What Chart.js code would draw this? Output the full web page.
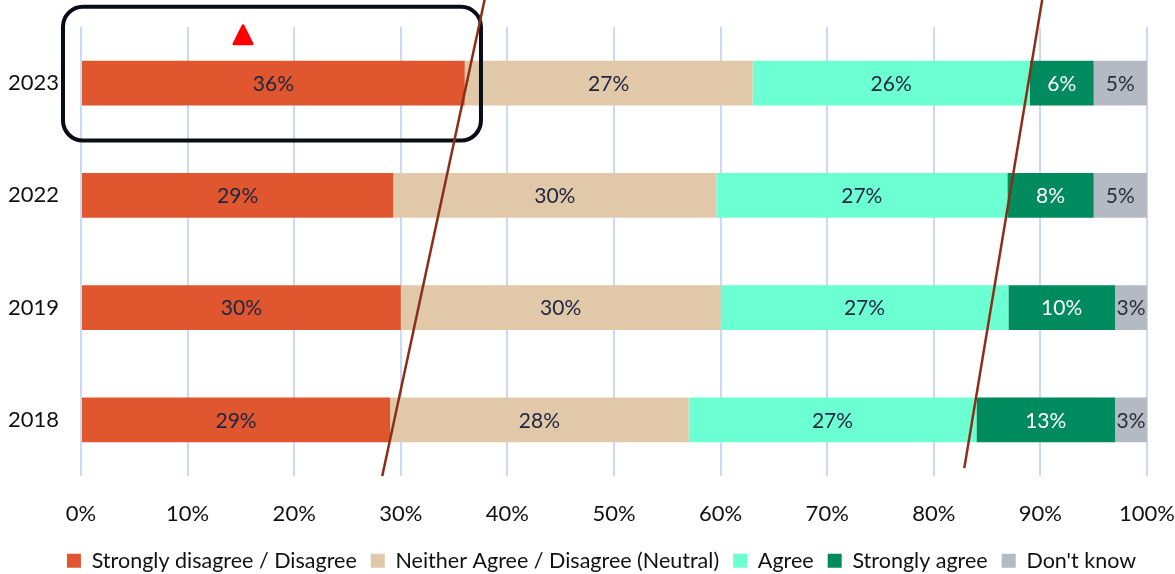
<!DOCTYPE html>
<html>
<head>
<meta charset="utf-8">
<script src="https://cdn.jsdelivr.net/npm/chart.js@4.4.1/dist/chart.umd.min.js"></script>
<style>
  html, body { margin: 0; padding: 0; background: #ffffff; }
  #wrap { width: 1175px; height: 574px; position: relative; }
</style>
</head>
<body>
<div id="wrap"><canvas id="c" width="1175" height="574"></canvas></div>
<script>
// ---- data ----
const categories = ['2023', '2022', '2019', '2018'];
const seriesNames = ['Strongly disagree / Disagree', 'Neither Agree / Disagree (Neutral)', 'Agree', 'Strongly agree', "Don't know"];
const disagree = [36.0, 29.3, 30.0, 29.0];
const neutral  = [27.0, 30.3, 30.0, 28.0];
const agree    = [26.0, 27.3, 27.0, 27.0];
const strongly = [6.0, 8.1, 10.0, 13.0];
const dontKnow = [5.0, 5.0, 3.0, 3.0];
const xTicks = [0, 10, 20, 30, 40, 50, 60, 70, 80, 90, 100];

// annotations in data units: [x percent, y category index]
const slashLine1 = [[28.26, 3.50], [37.9, -0.76]];
const slashLine2 = [[82.86, 3.43], [90.2, -0.76]];
const highlightBox = [[-1.69, -0.681], [37.52, 0.512]];
const markerTriangle = [15.2, -0.43];

const colors = ['#E0562F', '#E0C8A8', '#6CFFD2', '#008B5E', '#B4BAC4'];
const labelColors = ['#1C2640', '#1C2640', '#1C2640', '#FFFFFF', '#2A2F3A'];
const FONT = 'Lato, "Liberation Sans", sans-serif';

const seriesValues = [disagree, neutral, agree, strongly, dontKnow];

const labelPlugin = {
  id: 'segLabels',
  afterDatasetsDraw(chart) {
    const ctx = chart.ctx;
    ctx.save();
    ctx.font = '21px ' + FONT;
    ctx.textAlign = 'center';
    ctx.textBaseline = 'middle';
    chart.data.datasets.forEach((ds, di) => {
      const meta = chart.getDatasetMeta(di);
      meta.data.forEach((el, i) => {
        const p = el.getProps(['x', 'y', 'base'], true);
        ctx.fillStyle = labelColors[di];
        ctx.fillText(Math.round(ds.data[i]) + '%', (p.x + p.base) / 2, p.y + 1);
      });
    });
    ctx.restore();
  }
};

// nudge the legend row so it sits where the reference's does
const legendShift = {
  id: 'legendShift',
  afterLayout(chart) {
    if (chart.legend) {
      chart.legend.left += 28;
      chart.legend.right += 28;
    }
  }
};

const annotationPlugin = {
  id: 'annots',
  afterDraw(chart) {
    const ctx = chart.ctx;
    const xs = chart.scales.x, ys = chart.scales.y;
    const P = (pt) => [xs.getPixelForValue(pt[0]), ys.getPixelForValue(pt[1])];
    ctx.save();
    // highlight rounded box
    const a = P(highlightBox[0]), b = P(highlightBox[1]);
    ctx.strokeStyle = '#080C16';
    ctx.lineWidth = 4;
    ctx.beginPath();
    ctx.roundRect(a[0], a[1], b[0] - a[0], b[1] - a[1], 20);
    ctx.stroke();
    // triangle marker
    const t = P(markerTriangle);
    ctx.fillStyle = '#FF0000';
    ctx.strokeStyle = '#FF0000';
    ctx.lineWidth = 3;
    ctx.lineJoin = 'round';
    ctx.beginPath();
    ctx.moveTo(t[0], t[1] - 9);
    ctx.lineTo(t[0] + 9, t[1] + 9);
    ctx.lineTo(t[0] - 9, t[1] + 9);
    ctx.closePath();
    ctx.fill();
    ctx.stroke();
    // slash lines
    ctx.strokeStyle = '#8A2E18';
    ctx.lineWidth = 2.5;
    ctx.lineCap = 'butt';
    [slashLine1, slashLine2].forEach(ln => {
      const p0 = P(ln[0]), p1 = P(ln[1]);
      ctx.beginPath();
      ctx.moveTo(p0[0], p0[1]);
      ctx.lineTo(p1[0], p1[1]);
      ctx.stroke();
    });
    ctx.restore();
  }
};

new Chart(document.getElementById('c'), {
  type: 'bar',
  data: {
    labels: categories,
    datasets: seriesNames.map((n, i) => ({
      label: n,
      data: seriesValues[i],
      backgroundColor: colors[i],
      borderWidth: 0,
      categoryPercentage: 1,
      barPercentage: 0.4
    }))
  },
  options: {
    indexAxis: 'y',
    responsive: false,
    animation: false,
    devicePixelRatio: 1,
    layout: { padding: { left: 0, right: 28, top: 27, bottom: 0 } },
    scales: {
      x: {
        stacked: true,
        min: 0, max: 100,
        afterBuildTicks: (s) => { s.ticks = xTicks.map(v => ({ value: v })); },
        afterFit: (s) => { s.height = 60; },
        grid: { color: '#C9DAF5', lineWidth: 2, drawTicks: true, tickLength: 25, tickColor: 'rgba(0,0,0,0)' },
        border: { display: false },
        ticks: {
          padding: 0,
          color: '#111111',
          font: { family: FONT, size: 22 },
          callback: (v) => v + '%'
        }
      },
      y: {
        stacked: true,
        afterFit: (s) => { s.width = 81; },
        grid: { display: true, drawOnChartArea: false, drawTicks: true, tickLength: 20, tickColor: 'rgba(0,0,0,0)', color: 'rgba(0,0,0,0)' },
        border: { display: false },
        ticks: {
          padding: 2,
          color: '#111111',
          font: { family: FONT, size: 22 }
        }
      }
    },
    plugins: {
      legend: {
        position: 'bottom',
        maxHeight: 38,
        labels: {
          boxWidth: 14,
          boxHeight: 14,
          padding: 14,
          color: '#111111',
          font: { family: FONT, size: 21.5 }
        }
      },
      tooltip: { enabled: false }
    }
  },
  plugins: [labelPlugin, legendShift, annotationPlugin]
});
</script>
</body>
</html>
